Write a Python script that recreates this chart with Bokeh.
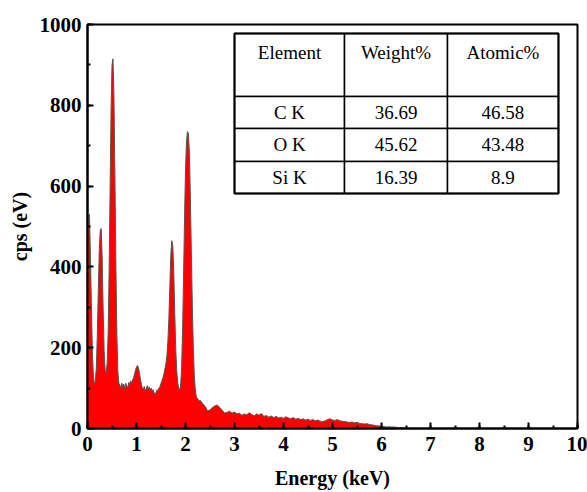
from bokeh.plotting import figure
from bokeh.models import ColumnDataSource, Range1d, FixedTicker
from bokeh.core.properties import value
from bokeh.embed import file_html
from bokeh.resources import INLINE

# ---- spectrum data ----
energy_low = [0.00, 0.02, 0.04, 0.06, 0.08, 0.10, 0.12, 0.14, 0.16, 0.18,
              0.20, 0.22, 0.24, 0.26, 0.28, 0.30, 0.32, 0.34, 0.36, 0.38,
              0.40, 0.42, 0.44, 0.46, 0.48, 0.50, 0.52, 0.54, 0.56, 0.58,
              0.60, 0.62, 0.64, 0.66, 0.68, 0.70, 0.72, 0.74, 0.76, 0.78,
              0.80, 0.82, 0.84, 0.86, 0.88, 0.90, 0.92, 0.94, 0.96, 0.98,
              1.00, 1.02, 1.04, 1.06, 1.08, 1.10, 1.12, 1.14, 1.16, 1.18,
              1.20, 1.22, 1.24, 1.26, 1.28, 1.30, 1.32, 1.34, 1.36, 1.38,
              1.40, 1.42, 1.44, 1.46, 1.48, 1.50, 1.52, 1.54, 1.56, 1.58,
              1.60, 1.62, 1.64, 1.66, 1.68, 1.70, 1.72, 1.74, 1.76, 1.78,
              1.80, 1.82, 1.84, 1.86, 1.88, 1.90, 1.92, 1.94, 1.96, 1.98,
              2.00, 2.02, 2.04, 2.06, 2.08, 2.10, 2.12, 2.14, 2.16, 2.18,
              2.20, 2.22, 2.24, 2.26, 2.28, 2.30]
cps_low = [470, 520, 530, 430, 300, 190, 130, 112, 115, 150,
           230, 340, 440, 490, 495, 420, 290, 190, 145, 138,
           160, 230, 380, 580, 780, 900, 915, 820, 620, 400,
           230, 140, 112, 108, 100, 112, 104, 110, 98, 112,
           105, 100, 114, 108, 118, 112, 120, 125, 135, 145,
           152, 156, 150, 138, 122, 110, 100, 97, 104, 92,
           100, 106, 98, 103, 95, 100, 92, 96, 88, 84,
           90, 96, 93, 100, 104, 112, 118, 126, 135, 148,
           160, 180, 215, 270, 350, 430, 465, 455, 390, 290,
           200, 145, 115, 100, 95, 105, 150, 240, 370, 520,
           640, 710, 735, 730, 680, 570, 430, 300, 200, 130,
           95, 80, 75, 72, 68, 70]
energy_high = [2.35, 2.40, 2.45, 2.50, 2.55, 2.60, 2.65, 2.70, 2.75, 2.80,
               2.85, 2.90, 2.95, 3.00, 3.05, 3.10, 3.15, 3.20, 3.25, 3.30,
               3.35, 3.40, 3.45, 3.50, 3.55, 3.60, 3.65, 3.70, 3.75, 3.80,
               3.85, 3.90, 3.95, 4.00, 4.05, 4.10, 4.15, 4.20, 4.25, 4.30,
               4.35, 4.40, 4.45, 4.50, 4.55, 4.60, 4.65, 4.70, 4.75, 4.80,
               4.85, 4.90, 4.95, 5.00, 5.05, 5.10, 5.15, 5.20, 5.25, 5.30,
               5.35, 5.40, 5.45, 5.50, 5.55, 5.60, 5.65, 5.70, 5.75, 5.80,
               5.85, 5.90, 5.95, 6.00, 6.10, 6.20, 6.30, 6.40, 6.50, 6.60,
               7.00, 8.00, 9.00, 10.00]
cps_high = [62, 55, 44, 46, 52, 56, 58, 52, 45, 38,
            40, 43, 38, 41, 36, 38, 33, 36, 34, 39,
            35, 31, 36, 33, 37, 30, 32, 28, 31, 27,
            30, 26, 28, 25, 29, 26, 24, 27, 23, 25,
            22, 24, 21, 23, 20, 22, 19, 21, 18, 17,
            19, 22, 24, 21, 20, 22, 19, 18, 17, 16,
            15, 16, 14, 15, 13, 12, 11, 12, 10, 9,
            8, 7, 6, 5, 4, 4, 3, 2, 1, 0,
            0, 0, 0, 0]
energy = energy_low + energy_high
cps = cps_low + cps_high

# ---- table data ----
table_header = ["Element", "Weight%", "Atomic%"]
elements = ["C K", "O K", "Si K"]
weight_pct = ["36.69", "45.62", "16.39"]
atomic_pct = ["46.58", "43.48", "8.9"]

x_ticks = [0, 1, 2, 3, 4, 5, 6, 7, 8, 9, 10]
y_ticks = [0, 200, 400, 600, 800, 1000]

SERIF = "Liberation Serif"

p = figure(width=587, height=492, output_backend="svg", toolbar_location=None,
           x_range=Range1d(0, 10), y_range=Range1d(0, 1000),
           min_border_left=87, min_border_right=10, min_border_top=24,
           min_border_bottom=64)
p.grid.visible = False
p.background_fill_color = "white"
p.border_fill_color = "white"
p.outline_line_color = "black"
p.outline_line_width = 2

src = ColumnDataSource(dict(x=energy, y=cps))
p.varea(x="x", y1=0, y2="y", source=src, fill_color="#ff0000")
p.line(x="x", y="y", source=src, line_color="#555555", line_width=1)

# axes styling
for ax in (p.xaxis[0], p.yaxis[0]):
    ax.axis_line_width = 2
    ax.axis_line_color = "black"
    ax.major_tick_in = 6
    ax.major_tick_out = 0
    ax.minor_tick_in = 3
    ax.minor_tick_out = 0
    ax.major_tick_line_width = 2
    ax.minor_tick_line_width = 2
    ax.major_label_text_font = SERIF
    ax.major_label_text_font_style = "bold"
    ax.major_label_text_font_size = "21px"
    ax.major_label_text_color = "black"
    ax.axis_label_text_font = SERIF
    ax.axis_label_text_font_style = "bold"
    ax.axis_label_text_font_size = "20px"
    ax.axis_label_text_color = "black"

p.xaxis.ticker = FixedTicker(ticks=x_ticks, minor_ticks=[i * 0.5 for i in range(21)])
p.yaxis.ticker = FixedTicker(ticks=y_ticks, minor_ticks=[i * 100 for i in range(11)])
p.xaxis.axis_label = "Energy (keV)"
p.yaxis.axis_label = "cps (eV)"
p.xaxis.major_label_standoff = 8
p.yaxis.major_label_standoff = 6
p.xaxis.axis_label_standoff = 13
p.yaxis.axis_label_standoff = 6

# ---- inset table ----
col_edges = [3.0, 5.245, 7.347, 9.612]
row_edges = [977.7, 821.8, 742.6, 660.9, 581.7]
lefts, rights, tops, bottoms = [], [], [], []
for r in range(len(row_edges) - 1):
    for c in range(len(col_edges) - 1):
        lefts.append(col_edges[c]); rights.append(col_edges[c + 1])
        tops.append(row_edges[r]); bottoms.append(row_edges[r + 1])
p.quad(left=lefts, right=rights, top=tops, bottom=bottoms,
       fill_color="white", line_color="black", line_width=1.5)
p.quad(left=[col_edges[0]], right=[col_edges[-1]], top=[row_edges[0]],
       bottom=[row_edges[-1]], fill_alpha=0, line_color="black", line_width=2)

col_centers = [(col_edges[i] + col_edges[i + 1]) / 2 for i in range(3)]
header_y = 931
tx, ty, tt = [], [], []
for i, h in enumerate(table_header):
    tx.append(col_centers[i]); ty.append(header_y); tt.append(h)
for r in range(3):
    yc = (row_edges[r + 1] + row_edges[r + 2]) / 2
    for c, vals in enumerate([elements, weight_pct, atomic_pct]):
        tx.append(col_centers[c]); ty.append(yc); tt.append(vals[r])
p.text(x=tx, y=ty, text=tt, text_align="center", text_baseline="middle",
       text_font=value(SERIF), text_font_size="19px", text_color="black")

open("out.html", "w").write(file_html(p, INLINE))
